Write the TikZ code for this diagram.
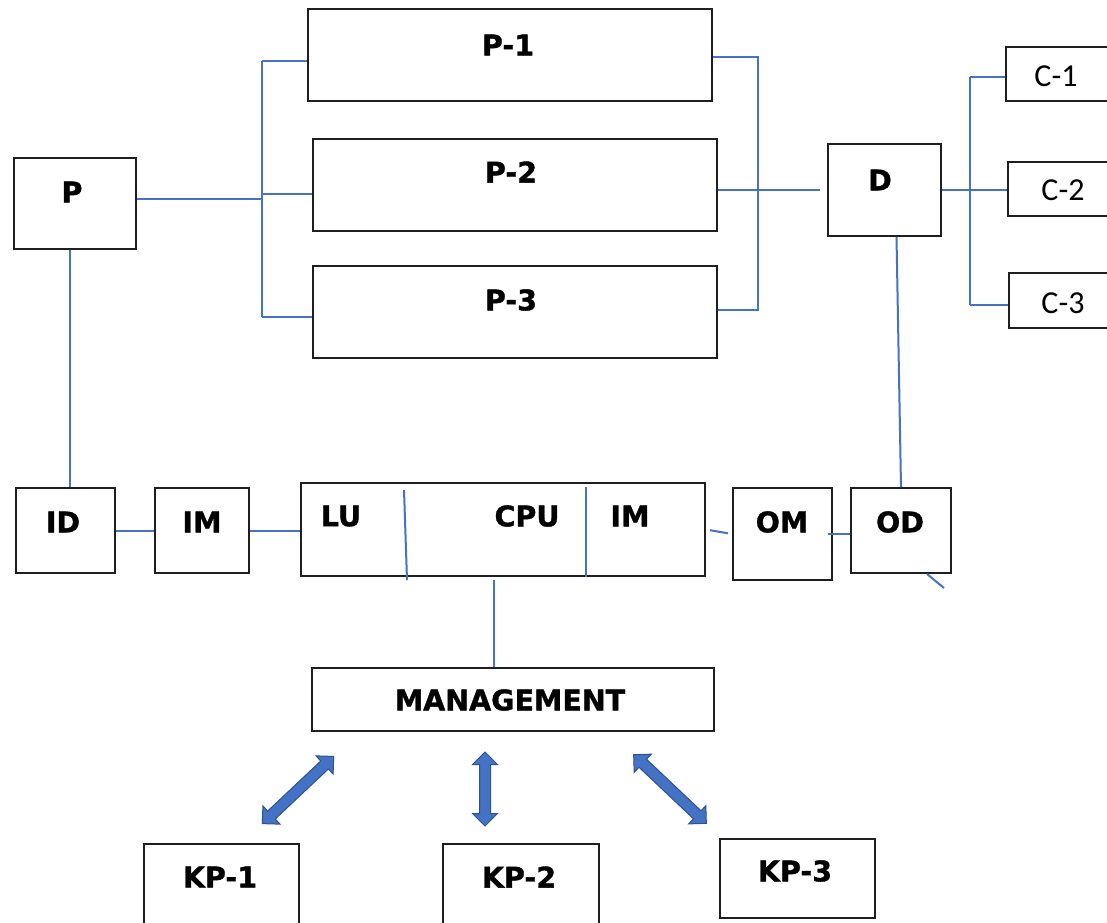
\documentclass[tikz,border=0pt]{standalone}
\usepackage{fontspec}
\usetikzlibrary{calc,shapes.arrows}
\newfontfamily\boldlbl{DejaVu Sans Bold}[FakeBold=1.2]
\newfontfamily\calfont{Carlito}
\definecolor{wireblue}{HTML}{4472C4}
\definecolor{arrowfill}{HTML}{4472C4}
\definecolor{arrowedge}{HTML}{2F528F}
\begin{document}
\begin{tikzpicture}[x=1pt,y=-1pt,
  box/.style={draw=black!88, line width=2pt, inner sep=0pt, anchor=north west},
  wire/.style={draw=wireblue, line width=2pt},
  lbl/.style={font=\boldlbl\fontsize{28.5}{30}\selectfont, inner sep=0pt},
  clbl/.style={font=\calfont\fontsize{32}{34}\selectfont, inner sep=0pt},
  blockarrow/.style={double arrow, fill=arrowfill, draw=arrowedge, line width=1pt,
    inner sep=5pt, minimum width=24pt, double arrow head extend=7pt}]
\useasboundingbox (0,0) rectangle (1107,922);
\fill[white] (0,0) rectangle (1107,922);
% boxes
\node[box, minimum width=122pt, minimum height=91pt] (p) at (13,157) {};
\node[box, minimum width=404pt, minimum height=92pt] (p1) at (307,8) {};
\node[box, minimum width=404pt, minimum height=92pt] (p2) at (312,138) {};
\node[box, minimum width=404pt, minimum height=92pt] (p3) at (312,265) {};
\node[box, minimum width=113pt, minimum height=92pt] (d) at (827,143) {};
\node[box, minimum width=112pt, minimum height=54pt] (c1) at (1005,46) {};
\node[box, minimum width=112pt, minimum height=54pt] (c2) at (1007,161) {};
\node[box, minimum width=112pt, minimum height=55pt] (c3) at (1008,272) {};
\node[box, minimum width=99pt, minimum height=85pt] (id) at (15,487) {};
\node[box, minimum width=94pt, minimum height=85pt] (im) at (154,487) {};
\node[box, minimum width=404pt, minimum height=93pt] (cpu) at (300,482) {};
\node[box, minimum width=99pt, minimum height=92pt] (om) at (732,487) {};
\node[box, minimum width=100pt, minimum height=85pt] (od) at (850,487) {};
\node[box, minimum width=402pt, minimum height=63pt] (mg) at (311,667) {};
\node[box, minimum width=155pt, minimum height=90pt] (kp1) at (143,843) {};
\node[box, minimum width=156pt, minimum height=90pt] (kp2) at (442,843) {};
\node[box, minimum width=155pt, minimum height=79pt] (kp3) at (719,838) {};
% labels
\node[lbl] (tp) at (72,192) {P};
\node[lbl] (tp1) at (508,45) {P-1};
\node[lbl] (tp2) at (511,172) {P-2};
\node[lbl] (tp3) at (511,300) {P-3};
\node[lbl] (td) at (880,180) {D};
\node[clbl] (tc1) at (1056,76) {C-1};
\node[clbl] (tc2) at (1063,190) {C-2};
\node[clbl] (tc3) at (1063,303) {C-3};
\node[lbl] (tid) at (63,522) {ID};
\node[lbl] (tim) at (202,522) {IM};
\node[lbl] (tlu) at (341,516) {LU};
\node[lbl] (tcpu) at (527,516) {CPU};
\node[lbl] (tim2) at (630,516) {IM};
\node[lbl] (tom) at (782,522) {OM};
\node[lbl] (tod) at (900,522) {OD};
\node[lbl] (tmg) at (510,700) {MANAGEMENT};
\node[lbl] (tkp1) at (220,877) {KP-1};
\node[lbl] (tkp2) at (519,877) {KP-2};
\node[lbl] (tkp3) at (795,871) {KP-3};
% left bracket
\coordinate (lt) at (262,61);
\coordinate (lm) at (262,199);
\coordinate (lm2) at (262,194);
\coordinate (lb) at (262,317);
\draw[wire] (p.east |- lm) -- (lm);
\draw[wire] (lt) -- (lb);
\draw[wire] (lt) -- (p1.west |- lt);
\draw[wire] (lm2) -- (p2.west |- lm2);
\draw[wire] (lb) -- (p3.west |- lb);
% right bracket
\coordinate (rt) at (758,57);
\coordinate (rb) at (758,310);
\draw[wire] (p1.east |- rt) -- (rt) -- (rb) -- (p3.east |- rb);
\draw[wire, shorten >=7pt] (p2.east |- d.west) -- (d.west);
% D to C
\coordinate (ct) at (970,77);
\coordinate (cb) at (970,305);
\draw[wire] (d.east) -- (c2.west |- d.east);
\draw[wire] (ct) -- (cb);
\draw[wire] (ct) -- (c1.west |- ct);
\draw[wire] (cb) -- (c3.west |- cb);
% D to OD
\draw[wire] ([xshift=12pt]d.south) -- (od.north);
\coordinate (ods) at (944,588);
\draw[wire] ([xshift=-25pt]od.south east) -- (ods);
% P to ID
\draw[wire] ([xshift=-5pt]p.south) -- ([xshift=-5pt]p.south |- id.north);
% middle row
\draw[wire] (id.east) -- (im.west);
\draw[wire] (im.east) -- (cpu.west |- im.east);
\draw[wire, shorten <=4pt, shorten >=4pt] (cpu.east) -- (om.west);
\draw[wire] ([xshift=-5pt]om.east) -- (od.west |- om.east);
% CPU dividers
\draw[wire] ($(cpu.north west)+(104,8)$) -- ($(cpu.south west)+(107,3)$);
\draw[wire] ($(cpu.north west)+(286,5)$) -- ($(cpu.south west)+(286,0)$);
% CPU to management
\draw[wire] ([xshift=-9pt,yshift=-3pt]cpu.south) -- ([xshift=-9pt]cpu.south |- mg.north);
% block arrows
\node[blockarrow, minimum height=98pt, rotate=43.3] (a1) at (298,790) {};
\node[blockarrow, minimum height=74pt, rotate=90] (a2) at (485,789) {};
\node[blockarrow, minimum height=100pt, rotate=-43.4] (a3) at (670,789) {};
\end{tikzpicture}
\end{document}
